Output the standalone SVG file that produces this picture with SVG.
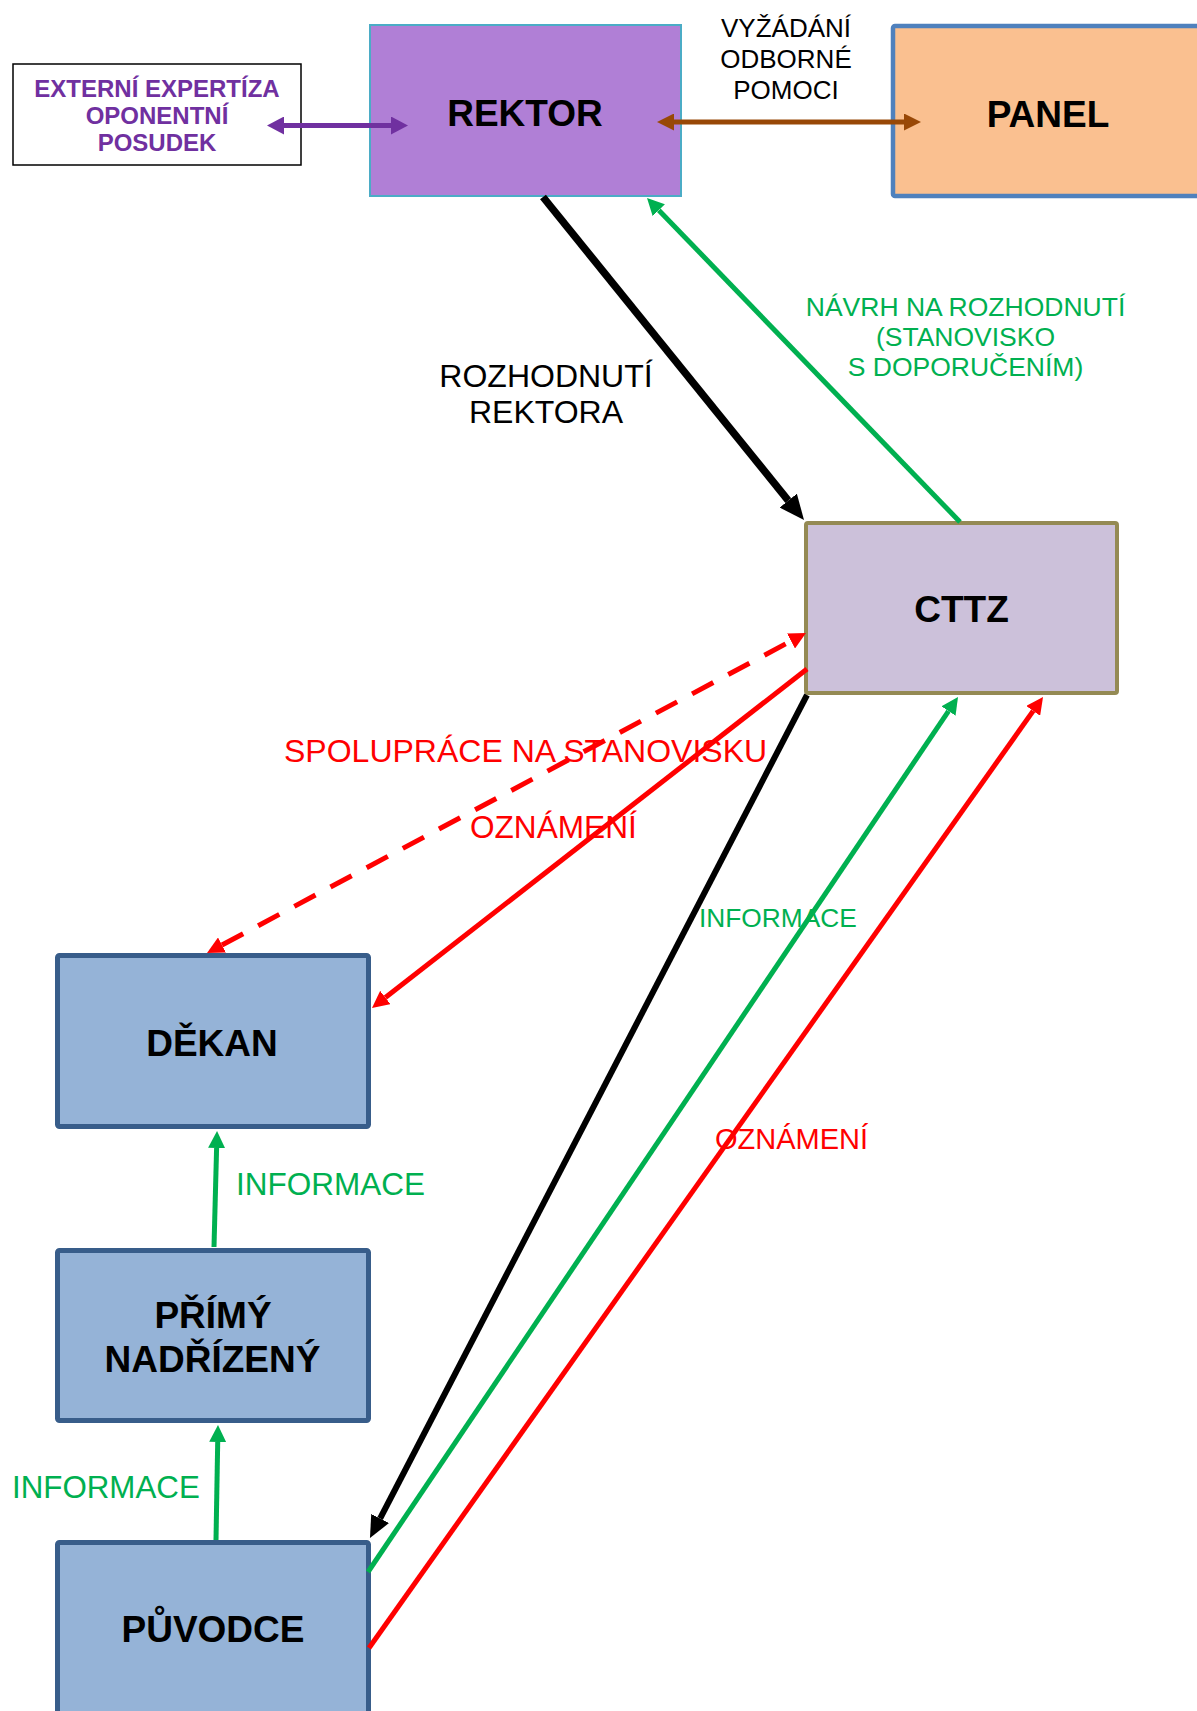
<svg xmlns="http://www.w3.org/2000/svg" width="1197" height="1711" viewBox="0 0 1197 1711">
<style>
text{font-family:"Liberation Sans",Arial,sans-serif}
.b{font-weight:bold;font-size:37px;fill:#000;text-anchor:middle}
.box{fill:#95B3D7;stroke:#385D8A;stroke-width:5}
.g{fill:#00B050}
.r{fill:#FF0000}
.ln{fill:none;stroke-linecap:butt}
</style>
<defs>
<marker id="hPurple" markerUnits="userSpaceOnUse" markerWidth="17" markerHeight="18" refX="0" refY="9" orient="auto-start-reverse"><path d="M0,0 L17,9 L0,18 z" fill="#7030A0"/></marker>
<marker id="hBrown" markerUnits="userSpaceOnUse" markerWidth="17" markerHeight="17" refX="0" refY="8.5" orient="auto-start-reverse"><path d="M0,0 L17,8.5 L0,17 z" fill="#984807"/></marker>
<marker id="hBlackL" markerUnits="userSpaceOnUse" markerWidth="25" markerHeight="22" refX="0" refY="11" orient="auto"><path d="M0,0 L25,11 L0,22 z" fill="#000"/></marker>
<marker id="hBlackM" markerUnits="userSpaceOnUse" markerWidth="22" markerHeight="20" refX="0" refY="10" orient="auto"><path d="M0,0 L22,10 L0,20 z" fill="#000"/></marker>
<marker id="hGreen" markerUnits="userSpaceOnUse" markerWidth="17" markerHeight="17" refX="0" refY="8.5" orient="auto"><path d="M0,0 L17,8.5 L0,17 z" fill="#00B050"/></marker>
<marker id="hRed" markerUnits="userSpaceOnUse" markerWidth="17" markerHeight="17" refX="0" refY="8.5" orient="auto-start-reverse"><path d="M0,0 L17,8.5 L0,17 z" fill="#FF0000"/></marker>
</defs>
<rect width="1197" height="1711" fill="#fff"/>

<g id="externi">
<rect x="13" y="64" width="288" height="101" fill="#fff" stroke="#000" stroke-width="1.5"/>
<text x="157" y="97" text-anchor="middle" font-weight="bold" font-size="24" fill="#7030A0">EXTERNÍ EXPERTÍZA</text>
<text x="157" y="124" text-anchor="middle" font-weight="bold" font-size="24" fill="#7030A0">OPONENTNÍ</text>
<text x="157" y="151" text-anchor="middle" font-weight="bold" font-size="24" fill="#7030A0">POSUDEK</text>
</g>
<g id="rektor">
<rect x="370" y="25" width="311" height="171" fill="#B07FD6" stroke="#4BACC6" stroke-width="2"/>
<text class="b" x="525" y="126">REKTOR</text>
</g>
<g id="panel">
<rect x="893" y="26" width="312" height="170" rx="2" fill="#FAC090" stroke="#4F81BD" stroke-width="4.5"/>
<text class="b" x="1048" y="127">PANEL</text>
</g>
<g id="cttz">
<rect x="806" y="523" width="311" height="170" rx="2" fill="#CCC1DA" stroke="#948A54" stroke-width="4"/>
<text class="b" x="961.5" y="622">CTTZ</text>
</g>
<g id="dekan">
<rect class="box" x="57.5" y="955.5" width="311" height="171" rx="2"/>
<text class="b" x="212" y="1056">DĚKAN</text>
</g>
<g id="primy">
<rect class="box" x="57.5" y="1250.5" width="311" height="170" rx="2"/>
<text class="b" x="213" y="1328">PŘÍMÝ</text>
<text class="b" x="212.5" y="1372">NADŘÍZENÝ</text>
</g>
<g id="puvodce">
<rect class="box" x="57.5" y="1542.5" width="311" height="200" rx="2"/>
<text class="b" x="213" y="1642">PŮVODCE</text>
</g>

<g id="labels">
<text x="786" y="37" text-anchor="middle" font-size="26" fill="#000">VYŽÁDÁNÍ</text>
<text x="786" y="68" text-anchor="middle" font-size="26" fill="#000">ODBORNÉ</text>
<text x="786" y="99" text-anchor="middle" font-size="26" fill="#000">POMOCI</text>
<text x="546" y="387" text-anchor="middle" font-size="32" fill="#000">ROZHODNUTÍ</text>
<text x="546" y="423" text-anchor="middle" font-size="32" fill="#000">REKTORA</text>
<text class="g" x="965.5" y="316" text-anchor="middle" font-size="26.5">NÁVRH NA ROZHODNUTÍ</text>
<text class="g" x="965.5" y="346" text-anchor="middle" font-size="26.5">(STANOVISKO</text>
<text class="g" x="965.5" y="376" text-anchor="middle" font-size="26.5">S DOPORUČENÍM)</text>
<text class="r" x="284" y="762" font-size="32">SPOLUPRÁCE NA STANOVISKU</text>
<text class="r" x="470" y="838" font-size="31.6">OZNÁMENÍ</text>
<text class="g" x="699" y="927" font-size="26.3">INFORMACE</text>
<text class="r" x="715" y="1149" font-size="29">OZNÁMENÍ</text>
<text class="g" x="236" y="1195" font-size="31.5">INFORMACE</text>
<text class="g" x="12" y="1498" font-size="31.3">INFORMACE</text>
</g>

<g id="connectors">
<line class="ln" x1="284" y1="125.5" x2="391" y2="125.5" stroke="#7030A0" stroke-width="5" marker-start="url(#hPurple)" marker-end="url(#hPurple)"/>
<line class="ln" x1="674" y1="122" x2="904" y2="122" stroke="#984807" stroke-width="5" marker-start="url(#hBrown)" marker-end="url(#hBrown)"/>
<line class="ln" x1="543" y1="197" x2="788.3" y2="500.6" stroke="#000" stroke-width="7.5" marker-end="url(#hBlackL)"/>
<line class="ln" x1="960" y1="522" x2="658.8" y2="210.2" stroke="#00B050" stroke-width="5" marker-end="url(#hGreen)"/>
<line class="ln" x1="222" y1="945" x2="791" y2="641" stroke="#FF0000" stroke-width="5" stroke-dasharray="24 17" marker-start="url(#hRed)" marker-end="url(#hRed)"/>
<line class="ln" x1="807" y1="669" x2="385.4" y2="997.5" stroke="#FF0000" stroke-width="5" marker-end="url(#hRed)"/>
<line class="ln" x1="807" y1="695" x2="380.1" y2="1518.5" stroke="#000" stroke-width="6" marker-end="url(#hBlackM)"/>
<line class="ln" x1="368" y1="1572" x2="948.5" y2="711.1" stroke="#00B050" stroke-width="5" marker-end="url(#hGreen)"/>
<line class="ln" x1="369" y1="1648" x2="1033.2" y2="710.9" stroke="#FF0000" stroke-width="5" marker-end="url(#hRed)"/>
<line class="ln" x1="214" y1="1247" x2="216.6" y2="1148" stroke="#00B050" stroke-width="5" marker-end="url(#hGreen)"/>
<line class="ln" x1="216" y1="1540" x2="217.7" y2="1442" stroke="#00B050" stroke-width="5" marker-end="url(#hGreen)"/>
</g>
</svg>
